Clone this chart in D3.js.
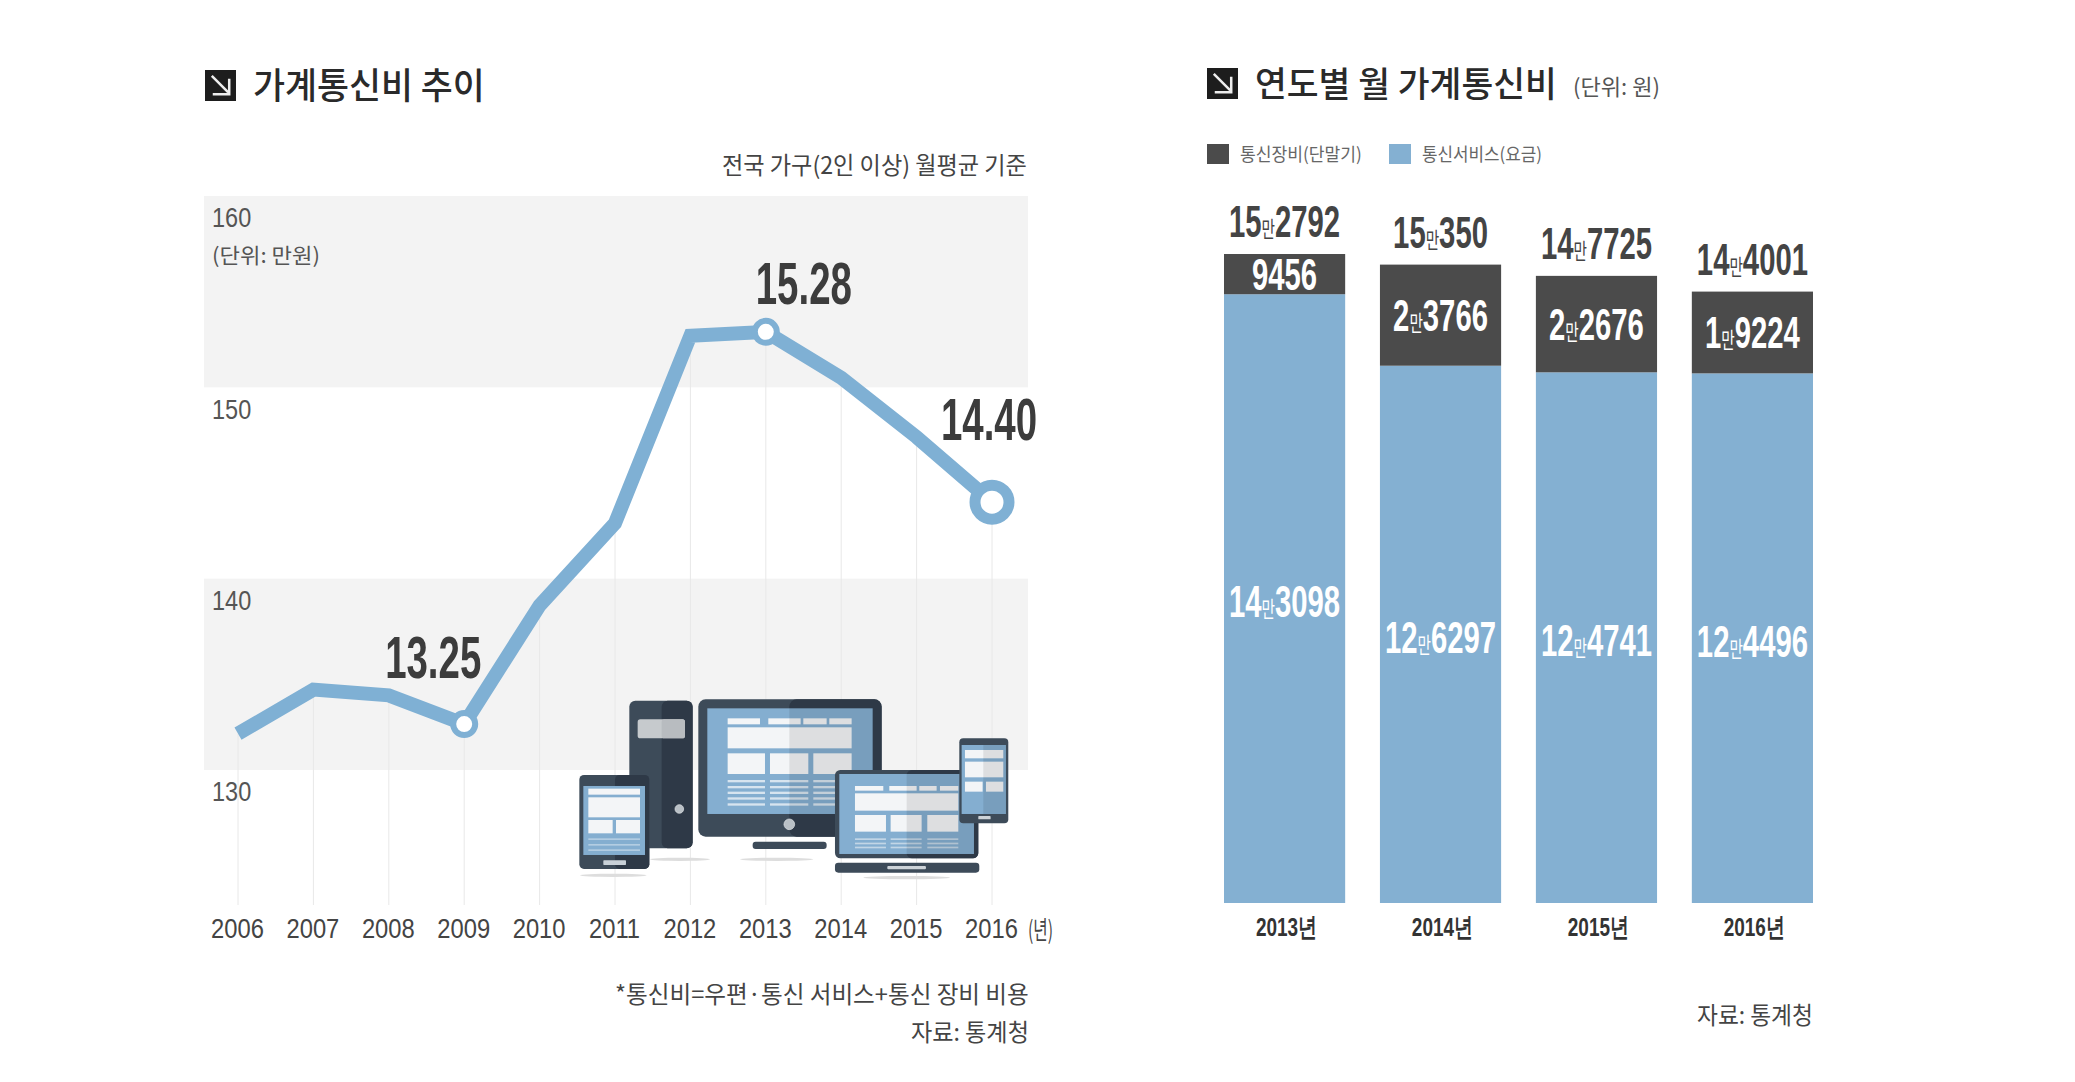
<!DOCTYPE html>
<meta charset="utf-8">
<style>
body { margin: 0; background: #fff; }
text { font-family: "Noto Sans CJK KR", sans-serif; }
.num { font-family: "Liberation Sans", sans-serif; }
</style>
<body>
<script src="https://d3js.org/d3.v7.min.js"></script>
<script>

// left chart
var years = ["2006", "2007", "2008", "2009", "2010", "2011", "2012", "2013", "2014", "2015", "2016"];
var costs = [131.9, 134.2, 133.9, 132.4, 138.6, 142.9, 152.7, 152.9, 150.5, 147.4, 144.0];
var yTicks = [130, 140, 150, 160];
var callouts = ["2009", "2013", "2016"];
var calloutLabels = ["13.25", "15.28", "14.40"];

// right chart
var barYears = ["2013", "2014", "2015", "2016"];
var services = [143098, 126297, 124741, 124496];
var devices = [9456, 23766, 22676, 19224];
var totals = [152792, 150350, 147725, 144001];

var blue = "#84b0d2", lineBlue = "#7fb0d4", dark = "#4b4b4b";

var svg = d3.select("body").append("svg")
    .attr("width", 2075)
    .attr("height", 1082)
    .style("display", "block");

// squeeze a text horizontally so it fills x0..x1, like the condensed original
function fit(x0, x1, cy, str, size, fill, weight) {
  var t = svg.append("text")
      .attr("dy", ".35em")
      .style("font-size", size + "px")
      .style("font-weight", weight || 400)
      .style("fill", fill)
      .text(str);
  var len = t.node().getComputedTextLength();
  t.attr("transform", "translate(" + x0 + "," + cy + ") scale(" + (x1 - x0) / len + ",1)");
  return t;
}

function titleMark(x, y, s) {
  var g = svg.append("g").attr("transform", "translate(" + x + "," + y + ") scale(" + s / 32 + ")");
  g.append("rect").attr("width", 32).attr("height", 32).attr("fill", "#1d1d1d");
  g.append("path")
      .attr("d", "M7,6L24,23M25,9V25H8")
      .attr("fill", "none")
      .attr("stroke", "#eee")
      .attr("stroke-width", 2.6);
}

// ---- left chart ----
var x = d3.scalePoint().domain(years).range([238, 992]);
var y = d3.scaleLinear().domain([130, 160]).range([770, 196]);

[[150, 160], [130, 140]].forEach(function (b) {
  svg.append("rect")
      .attr("x", 204)
      .attr("width", 824)
      .attr("y", y(b[1]))
      .attr("height", y(b[0]) - y(b[1]))
      .attr("fill", "#f3f3f3");
});

svg.append("g").selectAll("line")
    .data(years)
  .enter().append("line")
    .attr("x1", function (d) { return x(d); })
    .attr("x2", function (d) { return x(d); })
    .attr("y1", function (d, i) { return y(costs[i]); })
    .attr("y2", 905)
    .attr("stroke", "#e8e8e8");

var yAxis = svg.append("g")
    .attr("transform", "translate(212,22)")
    .call(d3.axisRight(y).tickValues(yTicks).tickSize(0).tickPadding(0));
yAxis.select(".domain").remove();
yAxis.selectAll("text")
    .attr("class", "num")
    .attr("transform", "scale(.84,1)")
    .style("font-size", "28px")
    .style("fill", "#555");

var xAxis = svg.append("g")
    .attr("transform", "translate(-1,919)")
    .call(d3.axisBottom(x).tickSize(0).tickPadding(0));
xAxis.select(".domain").remove();
xAxis.selectAll("text")
    .attr("class", "num")
    .attr("transform", "scale(.88,1)")
    .style("font-size", "27px")
    .style("fill", "#444");

// device illustration, drawn in its own local units
var shop = svg.append("g").attr("transform", "translate(570,690) scale(0.3333)");
var slate = "#3d4b59", deep = "#2e3947", screen = "#84aed0", paper = "#f3f5f7";

function box(x0, y0, x1, y1, fill, rx, op) {
  shop.append("rect")
      .attr("x", x0).attr("y", y0)
      .attr("width", x1 - x0).attr("height", y1 - y0)
      .attr("rx", rx || 0)
      .attr("fill", fill)
      .attr("opacity", op === undefined ? 1 : op);
}
function dot(cx, cy, r) {
  shop.append("circle").attr("cx", cx).attr("cy", cy).attr("r", r)
      .attr("fill", "#b9c0c6").attr("stroke", "#e4e7ea").attr("stroke-width", 2);
}
function shadow(cx, cy, rx) {
  shop.append("ellipse").attr("cx", cx).attr("cy", cy).attr("rx", rx).attr("ry", 5)
      .attr("fill", "#ddd");
}

shadow(130, 556, 100);
shadow(330, 508, 90);
shadow(620, 508, 110);
shadow(1010, 563, 130);

// tower
box(178, 32, 368, 475, slate, 18);
box(275, 32, 368, 475, deep, 18);
box(203, 88, 345, 145, "#c6cacd", 8);
box(275, 88, 345, 145, "#b8bcc0", 8);
dot(328, 357, 13);

// monitor
box(385, 28, 935, 440, slate, 22);
box(658, 28, 935, 440, deep, 22);
box(412, 55, 908, 372, screen);
[[473, 570], [595, 692], [700, 770], [778, 845]].forEach(function (c) { box(c[0], 85, c[1], 103, paper); });
box(473, 112, 845, 175, paper);
[[473, 585], [600, 715], [730, 845]].forEach(function (c) {
  box(c[0], 190, c[1], 252, paper);
  [270, 288, 305, 322, 340].forEach(function (l) { box(c[0], l, c[1], l + 7, "#d7e4ef"); });
});
box(658, 55, 908, 372, "#000", 0, 0.09);
dot(658, 403, 16);
box(548, 455, 770, 477, slate, 9);

// tablet
box(28, 255, 238, 537, slate, 14);
box(135, 255, 238, 537, deep, 14);
box(40, 288, 225, 495, screen);
box(55, 296, 210, 314, paper);
box(55, 322, 210, 382, paper);
box(55, 390, 128, 430, paper);
box(138, 390, 210, 430, paper);
[445, 462, 478].forEach(function (l) { box(55, l, 210, l + 5, "#b3cde2"); });
box(100, 511, 168, 525, "#c9d1d8", 2);

// laptop
box(795, 240, 1225, 505, slate, 16);
box(1010, 240, 1225, 505, deep, 16);
box(808, 252, 1212, 492, screen);
[[855, 940], [958, 1040], [1048, 1100], [1110, 1165]].forEach(function (c) { box(c[0], 288, c[1], 302, paper); });
box(855, 310, 1165, 362, paper);
[[855, 948], [962, 1055], [1072, 1165]].forEach(function (c) {
  box(c[0], 375, c[1], 425, paper);
  [445, 458, 470].forEach(function (l) { box(c[0], l, c[1], l + 5, "#c2d6e6"); });
});
box(1010, 252, 1212, 492, "#000", 0, 0.09);
box(795, 518, 1228, 548, slate, 10);
box(952, 528, 1068, 538, "#cdd3d8", 3);

// phone
box(1168, 145, 1315, 400, slate, 12);
box(1175, 165, 1308, 372, screen);
box(1185, 180, 1300, 205, paper);
box(1185, 215, 1300, 262, paper);
box(1185, 275, 1238, 305, paper);
box(1248, 275, 1300, 305, paper);
box(1240, 165, 1308, 372, "#000", 0, 0.09);
box(1225, 378, 1262, 388, "#cdd3d8", 2);

// line
var line = d3.line()
    .x(function (d, i) { return x(years[i]); })
    .y(function (d) { return y(d); });

svg.append("path")
    .datum(costs)
    .attr("d", line)
    .attr("fill", "none")
    .attr("stroke", lineBlue)
    .attr("stroke-width", 14)
    .attr("stroke-linejoin", "miter");

svg.append("g").selectAll("circle")
    .data(callouts)
  .enter().append("circle")
    .attr("cx", function (d) { return x(d); })
    .attr("cy", function (d) { return y(costs[years.indexOf(d)]); })
    .attr("r", function (d) { return d === "2016" ? 17 : 11; })
    .attr("fill", "#fff")
    .attr("stroke", lineBlue)
    .attr("stroke-width", function (d) { return d === "2016" ? 11 : 6; });

// callout numbers: 13.25 sits up-left, 15.28 above, 14.40 above-right of its point
var calloutDx = [-31, 38, -3], calloutDy = [-67, -49, -83];
svg.append("g").selectAll("text")
    .data(callouts)
  .enter().append("text")
    .attr("class", "num")
    .attr("transform", function (d, i) {
      return "translate(" + (x(d) + calloutDx[i]) + "," + (y(costs[years.indexOf(d)]) + calloutDy[i]) + ") scale(.64,1)";
    })
    .attr("dy", ".35em")
    .attr("text-anchor", "middle")
    .style("font-size", "60px")
    .style("font-weight", 700)
    .style("fill", "#3c3c3c")
    .text(function (d, i) { return calloutLabels[i]; });

fit(253, 485, 86, "가계통신비 추이", 36, "#2a2a2a", 500);
titleMark(205, 70, 31);
fit(722, 1027, 166, "전국 가구(2인 이상) 월평균 기준", 24, "#444");
fit(212, 320, 256, "(단위: 만원)", 21, "#555");
fit(1028, 1053, 930, "(년)", 25, "#444");
fit(615, 1029, 995, "*통신비=우편·통신 서비스+통신 장비 비용", 24, "#444");
fit(911, 1029, 1033, "자료: 통계청", 24, "#444");

// ---- right chart ----
var bx = d3.scaleBand().domain(barYears).range([1224, 1813]).paddingInner(0.223);
var by = d3.scaleLinear().domain([0, 152792]).range([903, 253]);

svg.append("g").selectAll("rect")
    .data(barYears)
  .enter().append("rect")
    .attr("x", function (d) { return bx(d); })
    .attr("width", bx.bandwidth())
    .attr("y", function (d, i) { return by(services[i]); })
    .attr("height", function (d, i) { return by(0) - by(services[i]); })
    .attr("fill", blue);

svg.append("g").selectAll("rect")
    .data(barYears)
  .enter().append("rect")
    .attr("x", function (d) { return bx(d); })
    .attr("width", bx.bandwidth())
    .attr("y", function (d, i) { return by(services[i] + devices[i]); })
    .attr("height", function (d, i) { return by(services[i]) - by(services[i] + devices[i]); })
    .attr("fill", dark);

// 152792 -> 15 + small 만 + 2792
function won(sel) {
  sel.each(function (v) {
    var t = d3.select(this), man = Math.floor(v / 10000), rest = v % 10000;
    if (man > 0) {
      t.append("tspan").text(man);
      t.append("tspan").style("font-size", "22px").style("font-weight", 400)
          .style("font-family", "'Noto Sans CJK KR'").text("만");
    }
    t.append("tspan").text(rest);
  });
}

function valueLabels(data, ypos, fill) {
  svg.append("g").selectAll("text")
      .data(data)
    .enter().append("text")
      .attr("class", "num")
      .attr("transform", function (d, i) {
        return "translate(" + (bx(barYears[i]) + bx.bandwidth() / 2) + "," + ypos(i) + ") scale(.665,1)";
      })
      .attr("dy", ".35em")
      .attr("text-anchor", "middle")
      .style("font-size", "44px")
      .style("font-weight", 700)
      .style("fill", fill)
      .call(won);
}

valueLabels(totals, function (i) { return by(totals[i]) - 31; }, "#444");
valueLabels(devices, function (i) { return (by(services[i]) + by(services[i] + devices[i])) / 2; }, "#fff");
valueLabels(services, function (i) { return (by(services[i]) + by(0)) / 2 + 3; }, "#fff");

var bxAxis = svg.append("g")
    .attr("transform", "translate(2,918)")
    .call(d3.axisBottom(bx).tickSize(0).tickPadding(0).tickFormat(function (d) { return d + "년"; }));
bxAxis.select(".domain").remove();
bxAxis.selectAll("text")
    .attr("class", "num")
    .attr("transform", "scale(.73,1)")
    .style("font-size", "26px")
    .style("font-weight", 700)
    .style("fill", "#333");

titleMark(1207, 68, 31);
fit(1255, 1557, 85, "연도별 월 가계통신비", 35, "#2a2a2a", 500);
fit(1573, 1660, 87, "(단위: 원)", 22, "#555");

svg.append("rect").attr("x", 1207).attr("y", 144).attr("width", 22).attr("height", 20).attr("fill", dark);
fit(1240, 1362, 155, "통신장비(단말기)", 18, "#666");
svg.append("rect").attr("x", 1389).attr("y", 144).attr("width", 22).attr("height", 20).attr("fill", blue);
fit(1422, 1542, 155, "통신서비스(요금)", 18, "#666");

fit(1697, 1813, 1016, "자료: 통계청", 24, "#444");

</script>
